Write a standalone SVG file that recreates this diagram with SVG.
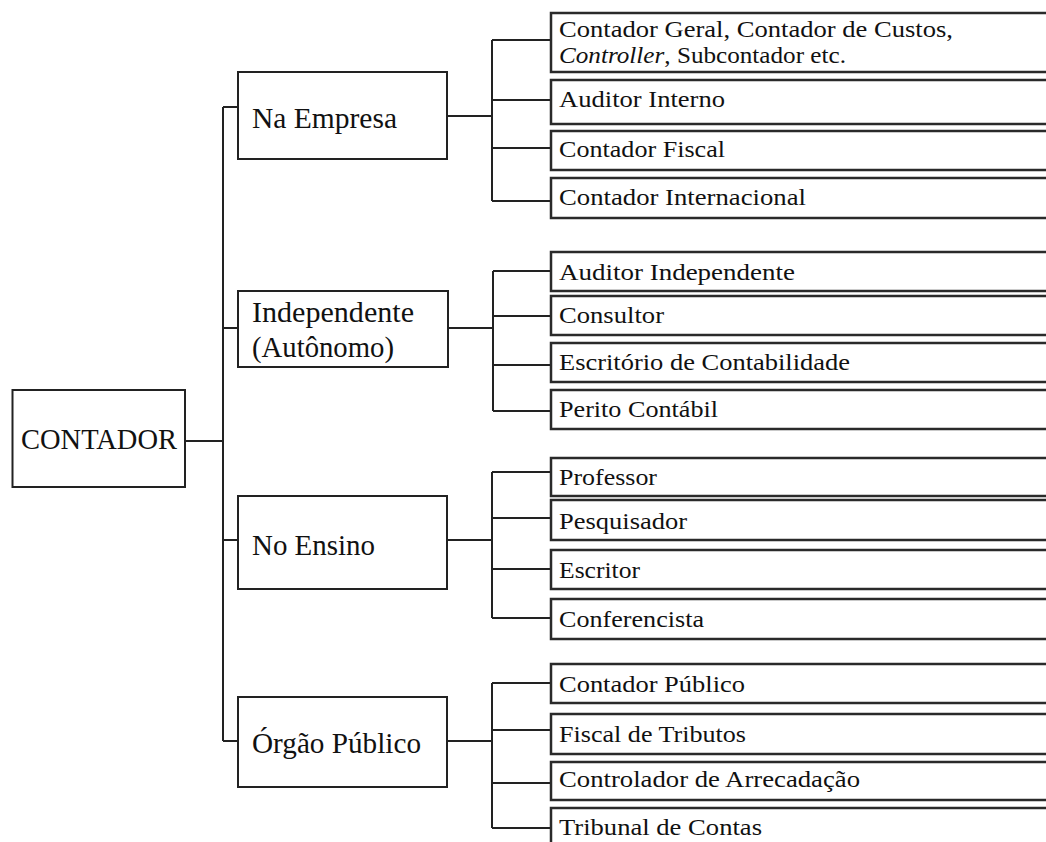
<svg xmlns="http://www.w3.org/2000/svg" width="1046" height="842" viewBox="0 0 1046 842">
<style>
.bg{fill:#ffffff}
.box{fill:#ffffff;stroke:#222;stroke-width:2}
.leaf{fill:#ffffff;stroke:#2a2a2a;stroke-width:2.5}
.ln{fill:none;stroke:#222;stroke-width:2}
.t1{font-family:"Liberation Serif",serif;font-size:29px;fill:#111}
.t2{font-family:"Liberation Serif",serif;font-size:23px;fill:#111}
</style>
<rect class="bg" x="0" y="0" width="1046" height="842"/>
<g id="connectors">
<path class="ln" d="M185 441H223M223 107V741M223 107H238M223 328H238M223 540H238M223 741H238"/>
<path class="ln" d="M447 116H492M492 40V201M492 40H551M492 100H551M492 148H551M492 201H551"/>
<path class="ln" d="M447 328H493M493 271V411M493 271H551M493 316H551M493 365H551M493 411H551"/>
<path class="ln" d="M447 540H492M492 472V618M492 472H551M492 518H551M492 569H551M492 618H551"/>
<path class="ln" d="M447 741H492M492 683V828M492 683H551M492 730H551M492 783H551M492 828H551"/>
</g>
<g id="contador"><rect class="box" x="12.5" y="390" width="172.5" height="97"/><text class="t1" x="21" y="449" textLength="156" lengthAdjust="spacingAndGlyphs">CONTADOR</text></g>
<g id="na-empresa"><rect class="box" x="238" y="72" width="209" height="87"/><text class="t1" x="252" y="128" textLength="145" lengthAdjust="spacingAndGlyphs">Na Empresa</text></g>
<g id="independente"><rect class="box" x="238" y="291" width="210" height="76"/><text class="t1" x="252" y="322" textLength="162" lengthAdjust="spacingAndGlyphs">Independente</text><text class="t1" x="252" y="357" textLength="142" lengthAdjust="spacingAndGlyphs">(Autônomo)</text></g>
<g id="no-ensino"><rect class="box" x="238" y="496" width="209" height="93"/><text class="t1" x="252" y="555" textLength="123" lengthAdjust="spacingAndGlyphs">No Ensino</text></g>
<g id="orgao-publico"><rect class="box" x="238" y="697" width="209" height="90"/><text class="t1" x="252" y="753" textLength="169" lengthAdjust="spacingAndGlyphs">Órgão Público</text></g>

<g id="contador-geral"><rect class="leaf" x="551" y="13" width="520" height="59"/><text class="t2" x="559" y="37" textLength="394" lengthAdjust="spacingAndGlyphs">Contador Geral, Contador de Custos,</text><text class="t2" x="559" y="63" textLength="287" lengthAdjust="spacingAndGlyphs"><tspan font-style="italic">Controller</tspan>, Subcontador etc.</text></g>
<g id="auditor-interno"><rect class="leaf" x="551" y="80" width="520" height="44"/><text class="t2" x="559" y="107" textLength="166" lengthAdjust="spacingAndGlyphs">Auditor Interno</text></g>
<g id="contador-fiscal"><rect class="leaf" x="551" y="131" width="520" height="39"/><text class="t2" x="559" y="157" textLength="166" lengthAdjust="spacingAndGlyphs">Contador Fiscal</text></g>
<g id="contador-internacional"><rect class="leaf" x="551" y="178" width="520" height="40"/><text class="t2" x="559" y="205" textLength="247" lengthAdjust="spacingAndGlyphs">Contador Internacional</text></g>

<g id="auditor-independente"><rect class="leaf" x="551" y="252" width="520" height="39"/><text class="t2" x="559" y="280" textLength="236" lengthAdjust="spacingAndGlyphs">Auditor Independente</text></g>
<g id="consultor"><rect class="leaf" x="551" y="296" width="520" height="39"/><text class="t2" x="559" y="323" textLength="105" lengthAdjust="spacingAndGlyphs">Consultor</text></g>
<g id="escritorio"><rect class="leaf" x="551" y="343" width="520" height="39"/><text class="t2" x="559" y="370" textLength="291" lengthAdjust="spacingAndGlyphs">Escritório de Contabilidade</text></g>
<g id="perito"><rect class="leaf" x="551" y="390" width="520" height="39"/><text class="t2" x="559" y="417" textLength="159" lengthAdjust="spacingAndGlyphs">Perito Contábil</text></g>

<g id="professor"><rect class="leaf" x="551" y="458" width="520" height="38"/><text class="t2" x="559" y="485" textLength="98" lengthAdjust="spacingAndGlyphs">Professor</text></g>
<g id="pesquisador"><rect class="leaf" x="551" y="500" width="520" height="40"/><text class="t2" x="559" y="529" textLength="128" lengthAdjust="spacingAndGlyphs">Pesquisador</text></g>
<g id="escritor"><rect class="leaf" x="551" y="550" width="520" height="39"/><text class="t2" x="559" y="578" textLength="81" lengthAdjust="spacingAndGlyphs">Escritor</text></g>
<g id="conferencista"><rect class="leaf" x="551" y="599" width="520" height="40"/><text class="t2" x="559" y="627" textLength="145" lengthAdjust="spacingAndGlyphs">Conferencista</text></g>

<g id="contador-publico"><rect class="leaf" x="551" y="664" width="520" height="39"/><text class="t2" x="559" y="692" textLength="186" lengthAdjust="spacingAndGlyphs">Contador Público</text></g>
<g id="fiscal-tributos"><rect class="leaf" x="551" y="714" width="520" height="40"/><text class="t2" x="559" y="742" textLength="187" lengthAdjust="spacingAndGlyphs">Fiscal de Tributos</text></g>
<g id="controlador"><rect class="leaf" x="551" y="762" width="520" height="38"/><text class="t2" x="559" y="787" textLength="301" lengthAdjust="spacingAndGlyphs">Controlador de Arrecadação</text></g>
<g id="tribunal"><rect class="leaf" x="551" y="808" width="520" height="50"/><text class="t2" x="559" y="835" textLength="203" lengthAdjust="spacingAndGlyphs">Tribunal de Contas</text></g>
</svg>
